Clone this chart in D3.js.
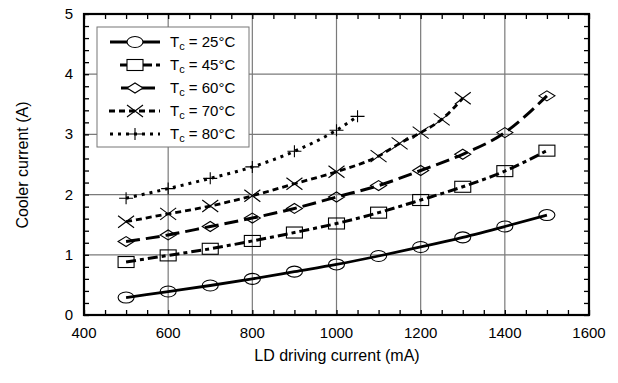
<!doctype html>
<html>
<head>
<style>
  body { margin: 0; background: #fff; }
  text { font-family: "Liberation Sans", Arial, sans-serif; fill: #000; }
</style>
<script src="https://d3js.org/d3.v7.min.js"></script>
</head>
<body>
<svg id="svg" width="618" height="383"></svg>
<script>
// data
var cur = [500, 600, 700, 800, 900, 1000, 1100, 1200, 1300, 1400, 1500];
var t25 = [0.29, 0.39, 0.49, 0.60, 0.72, 0.84, 0.98, 1.13, 1.29, 1.47, 1.66];
var t45 = [0.88, 0.99, 1.10, 1.23, 1.37, 1.52, 1.70, 1.91, 2.13, 2.39, 2.73];
var t60 = [1.22, 1.33, 1.47, 1.61, 1.77, 1.96, 2.15, 2.40, 2.67, 3.03, 3.64];
var cur70 = [500, 600, 700, 800, 900, 1000, 1100, 1150, 1200, 1250, 1300];
var t70 = [1.55, 1.68, 1.81, 1.98, 2.18, 2.38, 2.64, 2.85, 3.03, 3.25, 3.60];
var cur80 = [500, 600, 700, 800, 900, 1000, 1050];
var t80 = [1.94, 2.10, 2.27, 2.46, 2.72, 3.07, 3.30];

var temps = ["25", "45", "60", "70", "80"];
var xTicks = [400, 600, 800, 1000, 1200, 1400, 1600];
var yTicks = [0, 1, 2, 3, 4, 5];

var series = [
  { name: temps[0], x: cur, y: t25, marker: "circle", dash: null, width: 2.8, lx: 110 },
  { name: temps[1], x: cur, y: t45, marker: "square", dash: "10,4,4,4", width: 3, lx: 120 },
  { name: temps[2], x: cur, y: t60, marker: "diamond", dash: "14,6", width: 3, lx: 121 },
  { name: temps[3], x: cur70, y: t70, marker: "cross", dash: "6,4", width: 2.8, lx: 109 },
  { name: temps[4], x: cur80, y: t80, marker: "plus", dash: "3,5", width: 3, lx: 110 }
];

var svg = d3.select("#svg");
var pLeft = 84, pRight = 589, pTop = 14, pBottom = 315;

var xScale = d3.scaleLinear().domain([400, 1600]).range([pLeft, pRight]);
var yScale = d3.scaleLinear().domain([0, 5]).range([pBottom, pTop]);

// grid
var grid = svg.append("g").attr("stroke", "#7a7a7a").attr("stroke-width", 1.2);
grid.selectAll(".gx").data(xTicks.slice(1, -1)).enter().append("line")
  .attr("x1", function(d) { return xScale(d); }).attr("x2", function(d) { return xScale(d); })
  .attr("y1", pTop).attr("y2", pBottom);
grid.selectAll(".gy").data(yTicks.slice(1, -1)).enter().append("line")
  .attr("y1", function(d) { return yScale(d); }).attr("y2", function(d) { return yScale(d); })
  .attr("x1", pLeft).attr("x2", pRight);

// minor ticks, inward on all four sides
var tickLen = 5;
function tidy(g) { g.select(".domain").remove(); g.selectAll("line").attr("stroke-width", 1.3); }
svg.append("g").attr("transform", "translate(0," + pBottom + ")")
  .call(d3.axisBottom(xScale).ticks(24).tickSize(-tickLen).tickFormat("")).call(tidy);
svg.append("g").attr("transform", "translate(0," + pTop + ")")
  .call(d3.axisTop(xScale).ticks(24).tickSize(-tickLen).tickFormat("")).call(tidy);
svg.append("g").attr("transform", "translate(" + pLeft + ",0)")
  .call(d3.axisLeft(yScale).ticks(25).tickSize(-tickLen).tickFormat("")).call(tidy);
svg.append("g").attr("transform", "translate(" + pRight + ",0)")
  .call(d3.axisRight(yScale).ticks(25).tickSize(-tickLen).tickFormat("")).call(tidy);

// tick labels
svg.append("g").selectAll("text").data(xTicks).enter().append("text")
  .attr("x", function(d) { return xScale(d); })
  .attr("y", pBottom + 23)
  .attr("text-anchor", "middle")
  .style("font-size", "15px")
  .text(function(d) { return d; });
svg.append("g").selectAll("text").data(yTicks).enter().append("text")
  .attr("x", pLeft - 11)
  .attr("y", function(d) { return yScale(d) + 5; })
  .attr("text-anchor", "end")
  .style("font-size", "15px")
  .text(function(d) { return d; });

// axis titles
svg.append("text").attr("x", 337).attr("y", 361).attr("text-anchor", "middle")
  .style("font-size", "16px").text("LD driving current (mA)");
svg.append("text").attr("transform", "translate(28,165) rotate(-90)").attr("text-anchor", "middle")
  .style("font-size", "16px").text("Cooler current (A)");

// markers
function drawMarker(g, type, cx, cy) {
  if (type === "circle") {
    g.append("ellipse").attr("cx", cx).attr("cy", cy).attr("rx", 8).attr("ry", 5.5);
  } else if (type === "square") {
    g.append("rect").attr("x", cx - 8).attr("y", cy - 5.5).attr("width", 16).attr("height", 11);
  } else if (type === "diamond") {
    g.append("path").attr("d", "M" + (cx - 8) + "," + cy + "L" + cx + "," + (cy - 5) +
      "L" + (cx + 8) + "," + cy + "L" + cx + "," + (cy + 5) + "Z");
  } else if (type === "cross") {
    g.append("path").attr("d", "M" + (cx - 8) + "," + (cy - 6) + "L" + (cx + 8) + "," + (cy + 6) +
      "M" + (cx - 8) + "," + (cy + 6) + "L" + (cx + 8) + "," + (cy - 6));
  } else if (type === "plus") {
    g.append("path").attr("d", "M" + (cx - 7) + "," + cy + "L" + (cx + 7) + "," + cy +
      "M" + cx + "," + (cy - 6) + "L" + cx + "," + (cy + 6));
  }
}

var line = d3.line()
  .x(function(d) { return xScale(d[0]); })
  .y(function(d) { return yScale(d[1]); })
  .curve(d3.curveMonotoneX);

series.forEach(function(s) {
  var pts = s.x.map(function(v, i) { return [v, s.y[i]]; });
  svg.append("path")
    .attr("d", line(pts))
    .attr("fill", "none")
    .attr("stroke", "#000")
    .attr("stroke-width", s.width)
    .attr("stroke-dasharray", s.dash);
  var mg = svg.append("g").attr("fill", "none").attr("stroke", "#000").attr("stroke-width", 1.1);
  pts.forEach(function(p) { drawMarker(mg, s.marker, xScale(p[0]), yScale(p[1])); });
});

// frame
svg.append("rect").attr("x", pLeft).attr("y", pTop)
  .attr("width", pRight - pLeft).attr("height", pBottom - pTop)
  .attr("fill", "none").attr("stroke", "#000").attr("stroke-width", 2.2);

// legend
var lg = svg.append("g");
lg.append("rect").attr("x", 97).attr("y", 27).attr("width", 152).attr("height", 120)
  .attr("fill", "#fff").attr("stroke", "#777").attr("stroke-width", 1);
series.forEach(function(s, i) {
  var y = 42 + i * 23;
  lg.append("line").attr("x1", s.lx).attr("x2", 160).attr("y1", y).attr("y2", y)
    .attr("stroke", "#000").attr("stroke-width", s.width).attr("stroke-dasharray", s.dash);
  var mg = lg.append("g").attr("fill", "#fff").attr("stroke", "#000").attr("stroke-width", 1.1);
  drawMarker(mg, s.marker, 135, y);
  var t = lg.append("text").attr("x", 170).attr("y", y + 5).style("font-size", "15px");
  t.append("tspan").text("T");
  t.append("tspan").attr("dy", 3).style("font-size", "11px").text("c");
  t.append("tspan").attr("dy", -3).text(" = " + s.name + "\u00b0C");
});
</script>
</body>
</html>
